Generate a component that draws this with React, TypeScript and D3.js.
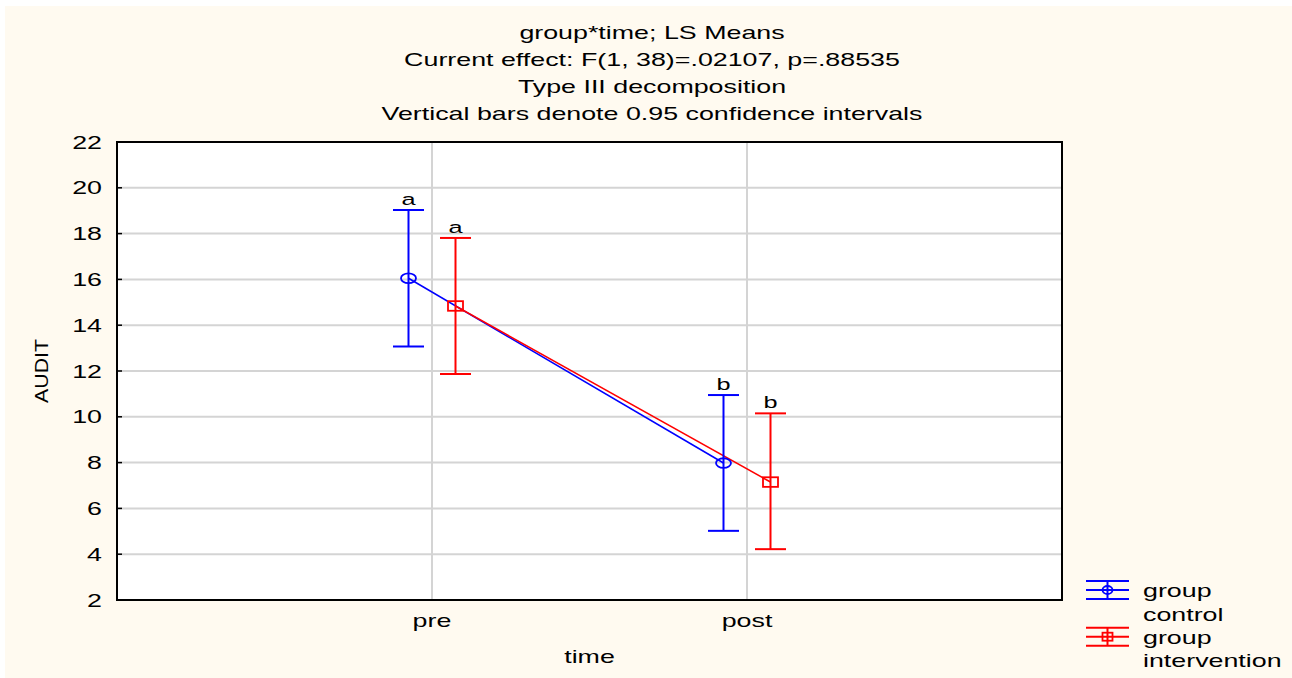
import React from "react";
import * as d3 from "d3";

const categories = ["pre", "post"];
const groups = ["control", "intervention"];
const controlMean = [16.05, 7.98];
const controlLower = [13.07, 5.02];
const controlUpper = [19.03, 10.95];
const interventionMean = [14.84, 7.15];
const interventionLower = [11.87, 4.22];
const interventionUpper = [17.81, 10.15];
const controlLetters = ["a", "b"];
const interventionLetters = ["a", "b"];
const yTicks = [2, 4, 6, 8, 10, 12, 14, 16, 18, 20, 22];
const titleLines = [
  "group*time; LS Means",
  "Current effect: F(1, 38)=.02107, p=.88535",
  "Type III decomposition",
  "Vertical bars denote 0.95 confidence intervals",
];
const legendLabels = [
  ["group", "control"],
  ["group", "intervention"],
];

const W = 1292;
const H = 678;
const SX = 1.49;
const FONT = "'Liberation Sans', Arial, sans-serif";
const left = 117, right = 1062, top = 142, bottom = 600;

function SText({ x, y, anchor = "start", size = 18, children, fill = "#000" }: any) {
  return (
    <text
      transform={`translate(${x},${y}) scale(${SX},1)`}
      textAnchor={anchor}
      fontSize={size}
      fontFamily={FONT}
      fill={fill}
    >
      {children}
    </text>
  );
}

export default function App() {
  const x = d3.scalePoint<string>().domain(categories).range([left, right]).padding(1);
  const off = d3.scalePoint<string>().domain(groups).range([-23.5, 23.5]);
  const y = d3.scaleLinear().domain([2, 22]).range([bottom, top]);

  const series = [
    { name: "control", color: "#0000ff", mean: controlMean, lo: controlLower, hi: controlUpper, letters: controlLetters, marker: "circle" },
    { name: "intervention", color: "#ff0000", mean: interventionMean, lo: interventionLower, hi: interventionUpper, letters: interventionLetters, marker: "square" },
  ];

  const line = d3
    .line<[number, number]>()
    .x((d) => d[0])
    .y((d) => d[1]);

  const capHalf = 15.5;
  const titleX = 652;

  const marker = (type: string, cx: number, cy: number, color: string, rx = 7.5, ry = 4.8) =>
    type === "circle" ? (
      <ellipse cx={cx} cy={cy} rx={rx} ry={ry} fill="none" stroke={color} strokeWidth={1.8} />
    ) : (
      <rect x={cx - rx} y={cy - ry} width={rx * 2} height={ry * 2} fill="none" stroke={color} strokeWidth={1.8} />
    );

  return (
    <svg width={W} height={H} style={{ position: "absolute", left: 0, top: 0 }}>
      <rect x={0} y={0} width={W} height={H} fill="#ffffff" />
      <rect x={5} y={6} width={W - 5} height={H - 6} fill="#fffaf0" />
      <rect x={left} y={top} width={right - left} height={bottom - top} fill="#ffffff" />

      {/* grid */}
      {yTicks.slice(1, -1).map((t) => (
        <line key={"gy" + t} x1={left} x2={right} y1={y(t)} y2={y(t)} stroke="#d4d4d4" strokeWidth={2} />
      ))}
      {categories.map((c) => (
        <line key={"gx" + c} x1={x(c)} x2={x(c)} y1={top} y2={bottom} stroke="#d4d4d4" strokeWidth={2} />
      ))}
      {/* ticks */}
      {yTicks.map((t) => (
        <line key={"tk" + t} x1={left} x2={left + 5} y1={y(t)} y2={y(t)} stroke="#000" strokeWidth={1.5} />
      ))}

      {/* series lines */}
      {series.map((s) => (
        <path
          key={"l" + s.name}
          d={line(categories.map((c, i) => [x(c)! + off(s.name)!, y(s.mean[i])]) as [number, number][]) || ""}
          fill="none"
          stroke={s.color}
          strokeWidth={1.6}
        />
      ))}

      {/* error bars */}
      {series.map((s) =>
        categories.map((c, i) => {
          const cx = x(c)! + off(s.name)!;
          return (
            <g key={s.name + c}>
              <line x1={cx} x2={cx} y1={y(s.hi[i])} y2={y(s.lo[i])} stroke={s.color} strokeWidth={2} />
              <line x1={cx - capHalf} x2={cx + capHalf} y1={y(s.hi[i])} y2={y(s.hi[i])} stroke={s.color} strokeWidth={2} />
              <line x1={cx - capHalf} x2={cx + capHalf} y1={y(s.lo[i])} y2={y(s.lo[i])} stroke={s.color} strokeWidth={2} />
              {marker(s.marker, cx, y(s.mean[i]), s.color)}
              <SText x={cx} y={y(s.hi[i]) - 5} anchor="middle" size={17}>
                {s.letters[i]}
              </SText>
            </g>
          );
        })
      )}

      {/* frame */}
      <rect x={left} y={top} width={right - left} height={bottom - top} fill="none" stroke="#000" strokeWidth={2} />

      {/* y tick labels */}
      {yTicks.map((t) => (
        <SText key={"yl" + t} x={102} y={y(t) + 6.5} anchor="end">
          {t}
        </SText>
      ))}
      {/* x tick labels */}
      {categories.map((c) => (
        <SText key={"xl" + c} x={x(c)} y={627} anchor="middle">
          {c}
        </SText>
      ))}
      <SText x={(left + right) / 2} y={663} anchor="middle">
        time
      </SText>
      <text
        transform={`translate(48,371) rotate(-90) scale(1.12,1)`}
        textAnchor="middle"
        fontSize={19}
        fontFamily={FONT}
      >
        AUDIT
      </text>

      {/* titles */}
      {titleLines.map((t, i) => (
        <SText key={"t" + i} x={titleX} y={38.5 + i * 27} anchor="middle">
          {t}
        </SText>
      ))}

      {/* legend */}
      {series.map((s, i) => {
        const cy = 590 + i * 46.7;
        const x0 = 1086, x1 = 1129, mx = (x0 + x1) / 2;
        return (
          <g key={"lg" + s.name}>
            <line x1={x0} x2={x1} y1={cy - 9} y2={cy - 9} stroke={s.color} strokeWidth={2} />
            <line x1={x0} x2={x1} y1={cy} y2={cy} stroke={s.color} strokeWidth={2} />
            <line x1={x0} x2={x1} y1={cy + 9} y2={cy + 9} stroke={s.color} strokeWidth={2} />
            <line x1={mx} x2={mx} y1={cy - 9} y2={cy + 9} stroke={s.color} strokeWidth={2} />
            {marker(s.marker, mx, cy, s.color, 5, 4)}
            <SText x={1143} y={597 + i * 47}>{legendLabels[i][0]}</SText>
            <SText x={1143} y={621 + i * 46}>{legendLabels[i][1]}</SText>
          </g>
        );
      })}
    </svg>
  );
}
